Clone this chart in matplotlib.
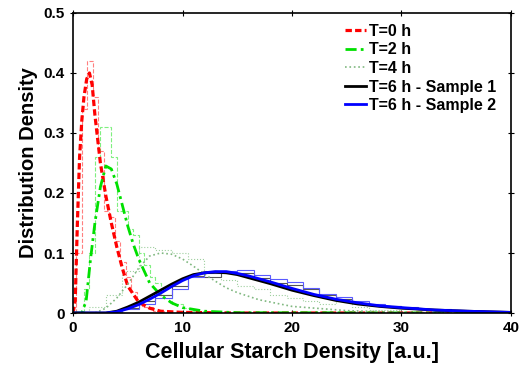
import numpy as np
import matplotlib.pyplot as plt

plt.rcParams['font.family'] = ['Liberation Sans', 'DejaVu Sans']
plt.rcParams['font.weight'] = 'bold'

# fitted curves
x_t0 = [0, 0.2, 0.4, 0.6, 0.8, 1.0, 1.25, 1.5, 1.75, 2.0, 2.5, 3.0, 3.5, 4.0, 4.5, 5.0, 6.0, 7.0, 8.0, 10, 15, 40]
y_t0 = [0, 0.02, 0.15, 0.26, 0.32, 0.36, 0.39, 0.40, 0.38, 0.33, 0.25, 0.195, 0.15, 0.11, 0.075, 0.045, 0.018, 0.008, 0.003, 0.001, 0, 0]

x_t2 = [0, 0.8, 1.2, 1.6, 2.0, 2.5, 3.0, 3.5, 4.0, 4.5, 5.0, 5.5, 6.0, 7.0, 8.0, 9.0, 10, 12, 15, 40]
y_t2 = [0, 0.0, 0.02, 0.09, 0.15, 0.21, 0.245, 0.24, 0.215, 0.18, 0.145, 0.115, 0.09, 0.05, 0.03, 0.017, 0.009, 0.003, 0.0005, 0]

x_t4 = [0, 2, 3, 4, 5, 6, 7, 8, 9, 10, 11, 12, 13, 14, 15, 17, 20, 25, 30, 40]
y_t4 = [0, 0.0, 0.008, 0.025, 0.048, 0.075, 0.095, 0.10, 0.098, 0.09, 0.078, 0.065, 0.053, 0.042, 0.034, 0.022, 0.011, 0.004, 0.001, 0]

x_t6 = [0, 3, 4, 5, 6, 7, 8, 9, 10, 11, 12, 13, 14, 15, 16, 18, 20, 22, 24, 26, 28, 30, 33, 36, 40]
y_t6a = [0, 0.0, 0.003, 0.01, 0.018, 0.028, 0.038, 0.048, 0.057, 0.064, 0.067, 0.068, 0.067, 0.064, 0.059,
         0.049, 0.038, 0.029, 0.021, 0.015, 0.011, 0.008, 0.005, 0.003, 0.001]
y_t6b = [0, 0.0, 0.002, 0.007, 0.014, 0.023, 0.033, 0.044, 0.054, 0.062, 0.067, 0.069, 0.069, 0.066, 0.062,
         0.052, 0.041, 0.031, 0.023, 0.017, 0.012, 0.009, 0.005, 0.003, 0.001]

# histograms (bin edges + heights)
e_t0 = [0.3, 0.8, 1.3, 1.8, 2.3, 2.8, 3.3, 3.8, 4.3, 4.8, 5.3, 5.8, 6.3, 7.3, 8.3]
h_t0 = [0.10, 0.34, 0.42, 0.36, 0.27, 0.17, 0.16, 0.12, 0.085, 0.06, 0.035, 0.02, 0.01, 0.004]

e_t2 = [0.5, 1, 1.5, 2, 2.5, 3, 3.5, 4, 4.5, 5, 5.5, 6, 6.5, 7, 7.5, 8, 9, 10, 11, 12]
h_t2 = [0.0, 0.04, 0.10, 0.26, 0.31, 0.31, 0.26, 0.17, 0.17, 0.14, 0.13, 0.10, 0.08, 0.06, 0.05, 0.03, 0.015, 0.008, 0.003]

e_t4 = [1.5, 3, 4.5, 6, 7.5, 9, 10.5, 12, 13.5, 15, 16.5, 18, 19.5, 21, 22.5, 24, 25.5, 27, 30]
h_t4 = [0.01, 0.03, 0.07, 0.11, 0.105, 0.10, 0.09, 0.07, 0.055, 0.045, 0.04, 0.03, 0.025, 0.02, 0.015, 0.02, 0.01, 0.005]

e_t6 = [3, 4.5, 6, 7.5, 9, 10.5, 12, 13.5, 15, 16.5, 18, 19.5, 21, 22.5, 24, 25.5, 27, 28.5, 30, 31.5, 33, 34.5, 36, 37.5, 40]
h_t6a = [0.002, 0.008, 0.02, 0.03, 0.045, 0.062, 0.06, 0.067, 0.066, 0.058, 0.05, 0.046, 0.04, 0.03, 0.023, 0.017,
         0.014, 0.011, 0.009, 0.007, 0.005, 0.004, 0.003, 0.002]
h_t6b = [0.001, 0.006, 0.015, 0.025, 0.04, 0.06, 0.066, 0.07, 0.072, 0.064, 0.056, 0.052, 0.042, 0.032, 0.026, 0.02,
         0.015, 0.012, 0.01, 0.007, 0.006, 0.004, 0.003, 0.002]

fig = plt.figure(figsize=(5.23, 3.66), dpi=100)
ax = fig.add_axes([0.1396, 0.1448, 0.8374, 0.8197])

ax.stairs(h_t4, e_t4, color='#9fcf9f', lw=0.8, ls=':')
ax.stairs(h_t2, e_t2, color='#7fef7f', lw=0.8, ls='--')
ax.stairs(h_t0, e_t0, color='#ff7f7f', lw=0.8, ls='--')
ax.stairs(h_t6a, e_t6, color='#555555', lw=0.8)
ax.stairs(h_t6b, e_t6, color='#5a5aff', lw=0.8)

ax.plot(x_t0, y_t0, color='red', lw=2.3, ls=(0, (2, 1)), label='T=0 h')
ax.plot(x_t2, y_t2, color='#00e000', lw=2, ls=(0, (4, 1.5, 1, 1.5)), label='T=2 h')
ax.plot(x_t4, y_t4, color='#80b880', lw=1.2, ls=':', label='T=4 h')
ax.plot(x_t6, y_t6a, color='black', lw=2, label='T=6 h - Sample 1')
ax.plot(x_t6, y_t6b, color='blue', lw=2, label='T=6 h - Sample 2')

ax.set_xlim(0, 40)
ax.set_ylim(0, 0.5)
ax.set_xticks([0, 10, 20, 30, 40])
ax.set_yticks([0, 0.1, 0.2, 0.3, 0.4, 0.5])
ax.set_yticklabels(['0', '0.1', '0.2', '0.3', '0.4', '0.5'])
ax.tick_params(direction='inout', length=5, labelsize=11, top=True, right=True)
for s in ax.spines.values():
    s.set_linewidth(1.2)
ax.set_xlabel('Cellular Starch Density [a.u.]', fontsize=15.5, fontweight='bold', labelpad=5)
ax.set_ylabel('Distribution Density', fontsize=14.5, fontweight='bold')

ax.legend(loc='upper right', frameon=False, fontsize=11.5, handlelength=1.3,
          handletextpad=0.2, labelspacing=0.22, borderaxespad=0.1,
          bbox_to_anchor=(0.985, 0.99))

fig.savefig('out.png', dpi=100)
